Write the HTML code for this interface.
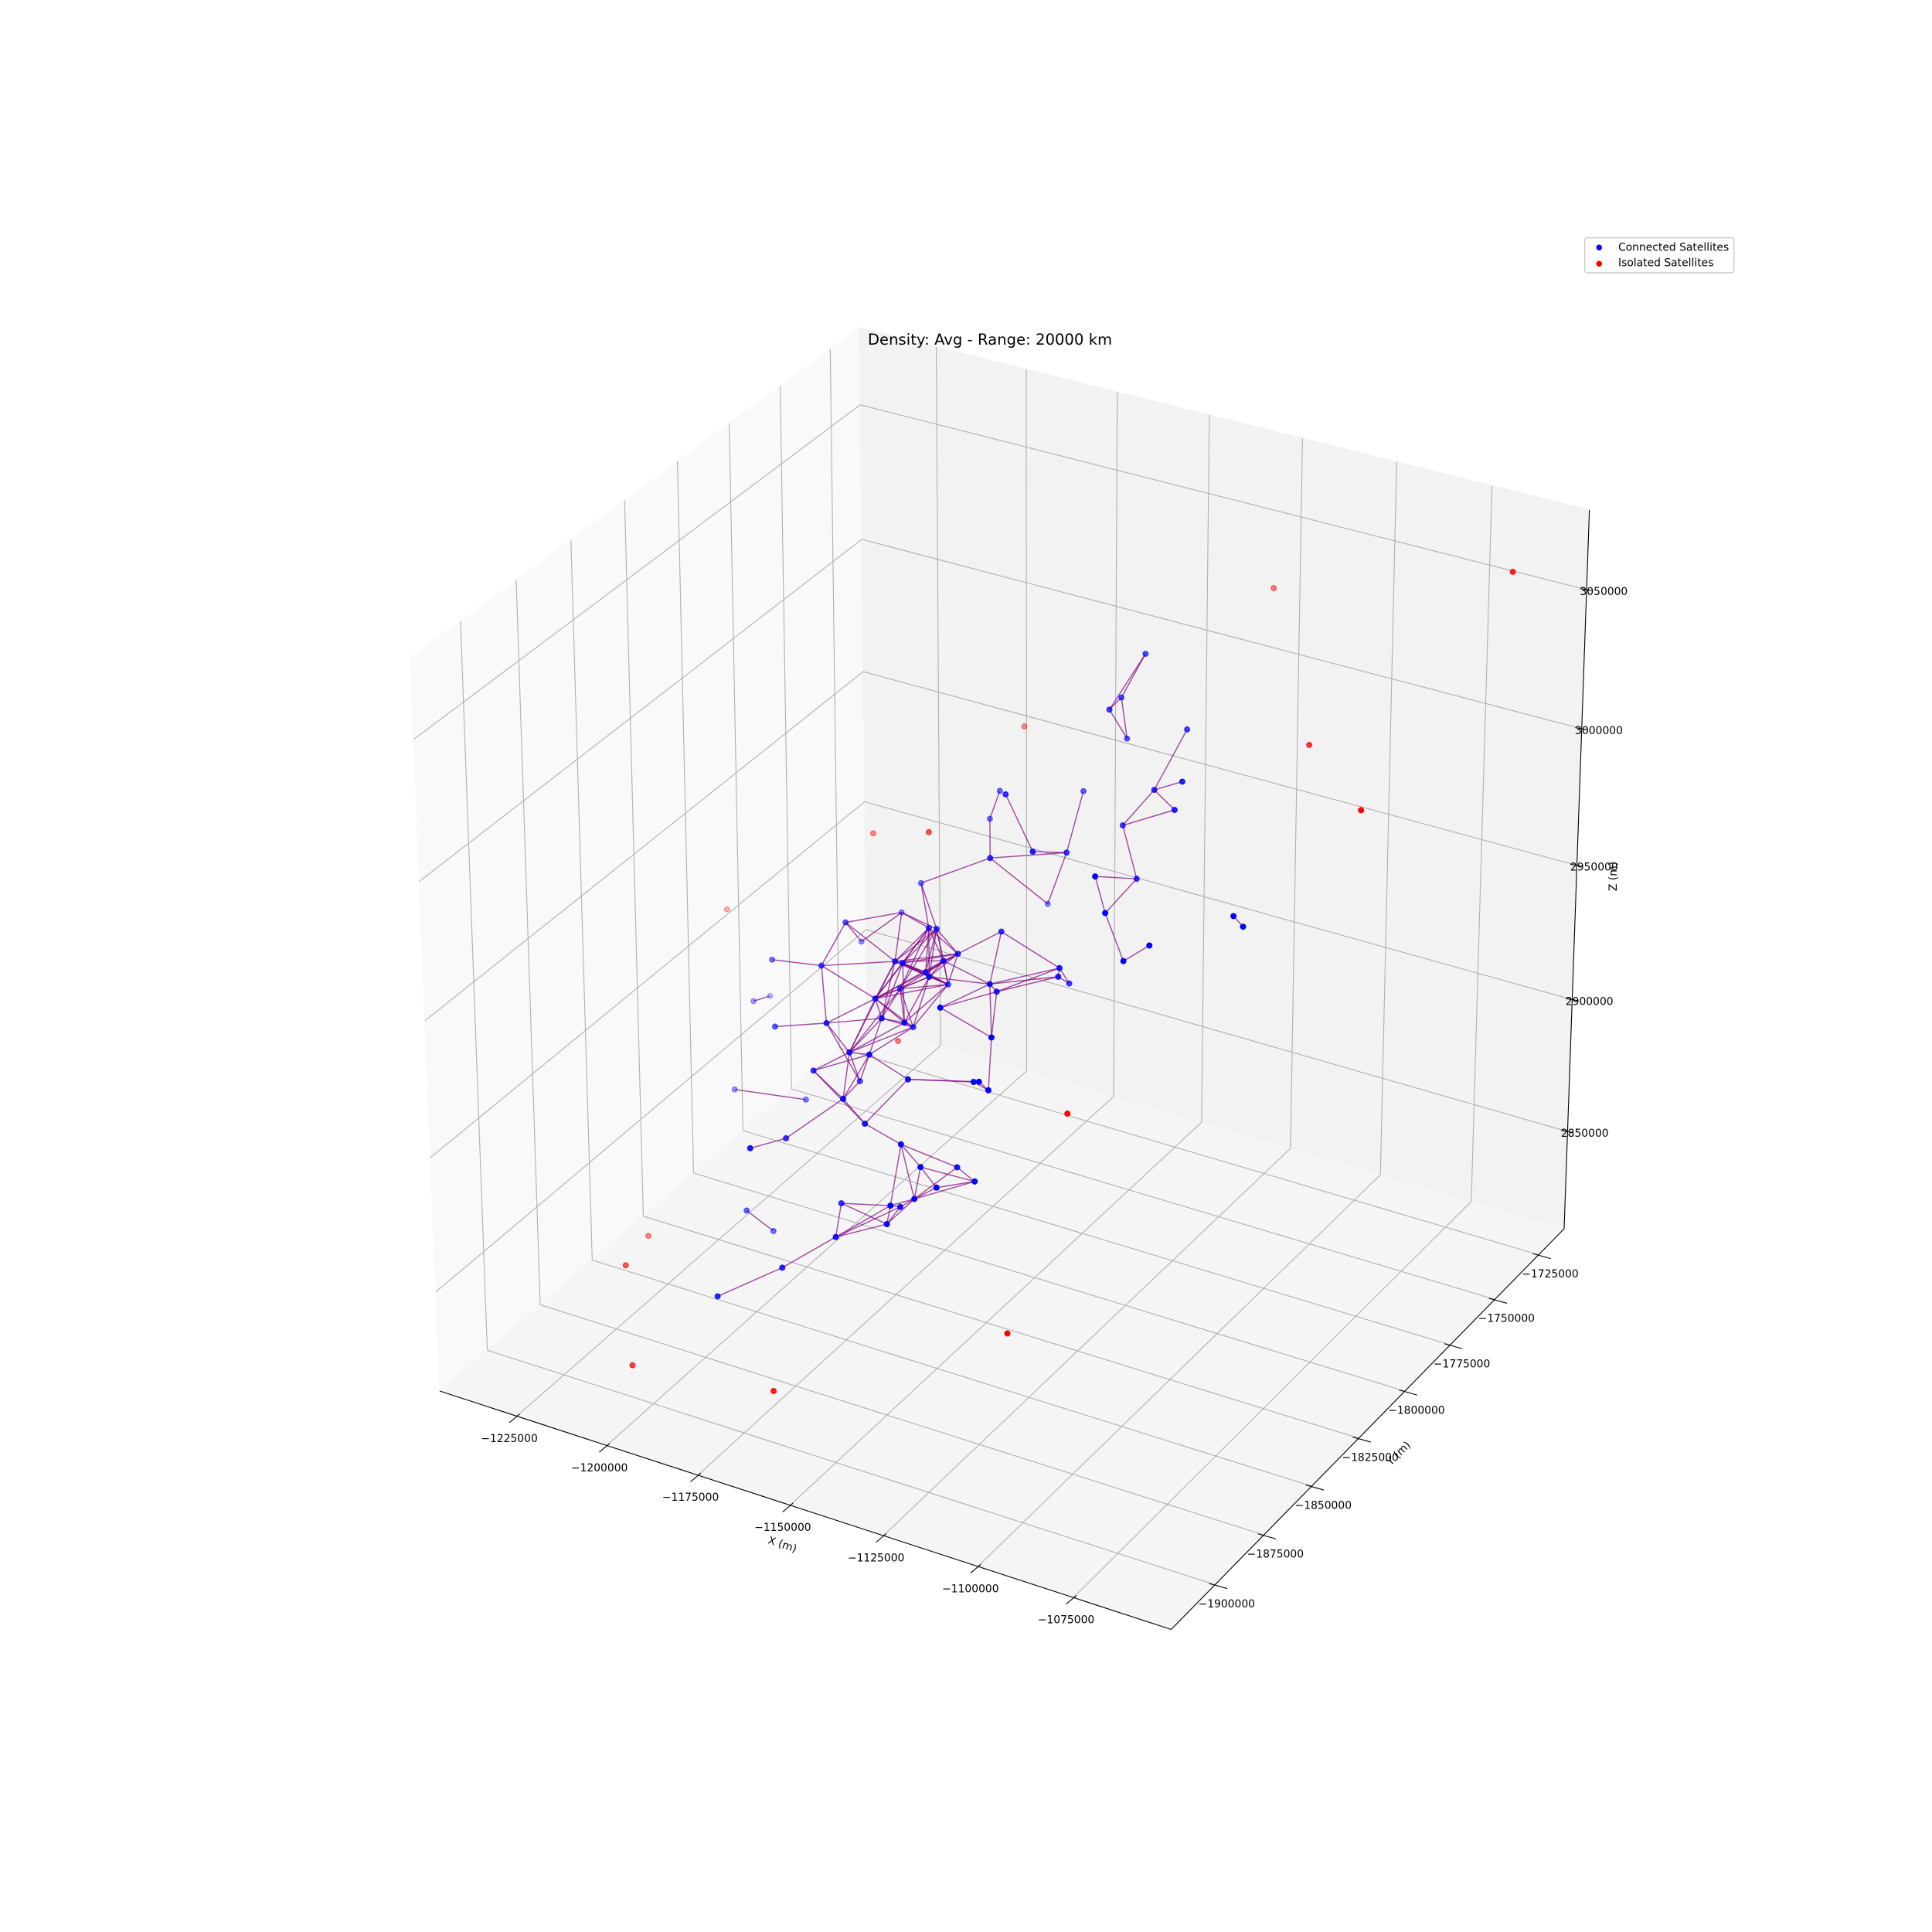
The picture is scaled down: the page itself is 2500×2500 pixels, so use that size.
<!DOCTYPE html>
<html>
<head>
<meta charset="utf-8">
<title>Density: Avg - Range: 20000 km</title>
<style>
html,body{margin:0;padding:0;background:#fff;}
svg{display:block;}
text{font-family:"DejaVu Sans","Liberation Sans",sans-serif;fill:#000;}
</style>
</head>
<body>
<svg id="chart" xmlns="http://www.w3.org/2000/svg" width="2500" height="2500" viewBox="0 0 2500 2500">
  <rect x="0" y="0" width="2500" height="2500" fill="#ffffff"/>
  <g id="panes"></g>
  <g id="grid"></g>
  <g id="axes"></g>
  <g id="tick-labels"></g>
  <g id="links"></g>
  <g id="connected"></g>
  <g id="isolated"></g>
  <text x="1123" y="446" font-size="19.44" textLength="316" lengthAdjust="spacing">Density: Avg - Range: 20000 km</text>
  <text x="1012.3" y="1999" font-size="13.89" text-anchor="middle" dominant-baseline="central" transform="rotate(18.3 1012.3 1999)">X (m)</text>
  <text x="1810" y="1881" font-size="13.89" text-anchor="middle" dominant-baseline="central" transform="rotate(-45 1810 1881)">Y (m)</text>
  <text x="2088" y="1134" font-size="13.89" text-anchor="middle" dominant-baseline="central" transform="rotate(-90 2088 1134)">Z (m)</text>
  <g>
    <rect x="2050.7" y="307.7" width="193" height="45.3" rx="3" ry="3" fill="#ffffff" fill-opacity="0.8" stroke="#cccccc" stroke-width="1.39"/>
    <circle cx="2069.3" cy="320.3" r="3.1" fill="#0000ff" stroke="#0000ff" stroke-width="1.39"/>
    <text x="2094" y="324.6" font-size="13.89">Connected Satellites</text>
    <circle cx="2069.3" cy="341.3" r="3.1" fill="#ff0000" stroke="#ff0000" stroke-width="1.39"/>
    <text x="2094" y="344.6" font-size="13.89">Isolated Satellites</text>
  </g>
</svg>
<script>
// Tick values (metres)
const xTicks = [-1225000,-1200000,-1175000,-1150000,-1125000,-1100000,-1075000];
const yTicks = [-1900000,-1875000,-1850000,-1825000,-1800000,-1775000,-1750000,-1725000];
const zTicks = [2850000,2900000,2950000,3000000,3050000];

// Connected satellites (metres)
const connectedX = [-1188200,-1149300,-1135400,-1139900,-1166800,-1195900,-1190400,-1208700,-1163000,-1161400,-1150700,-1148600,-1214100,-1187500,-1162500,-1154800,-1153100,-1156000,-1143700,-1161600,-1170800,-1158300,-1137000,-1135300,-1124400,-1124200,-1132700,-1129500,-1118400,-1233100,-1241000,-1199000,-1172700,-1156100,-1146200,-1161000,-1155200,-1151300,-1172800,-1174000,-1137400,-1119600,-1118600,-1116400,-1226700,-1205400,-1154100,-1148700,-1174700,-1169400,-1135500,-1125400,-1128900,-1114500,-1121400,-1125000,-1129200,-1137800,-1160700,-1134200,-1200600,-1199600,-1148600,-1162700,-1173700,-1139700,-1142200,-1138800,-1144100,-1122600,-1110100,-1120900,-1110200,-1130300,-1119800,-1106800,-1103100,-1097300,-1093200,-1078800,-1076500,-1155200,-1149500,-1171900,-1177700];
const connectedY = [-1786400,-1823300,-1828300,-1802900,-1761400,-1782300,-1819700,-1779700,-1828300,-1827400,-1836600,-1819100,-1814200,-1836600,-1845600,-1855700,-1839200,-1842600,-1863200,-1821500,-1828300,-1862600,-1846300,-1846100,-1835700,-1836700,-1815000,-1883800,-1880000,-1791100,-1769400,-1839200,-1860400,-1863600,-1870600,-1839800,-1880500,-1878100,-1866600,-1842500,-1884900,-1886300,-1885600,-1885200,-1811900,-1813800,-1885600,-1885100,-1876600,-1902200,-1891800,-1900900,-1877200,-1895300,-1900700,-1904600,-1908200,-1888200,-1875400,-1901000,-1851400,-1840500,-1899400,-1899900,-1911000,-1763600,-1771000,-1783700,-1764200,-1775300,-1802300,-1795300,-1805900,-1792900,-1806000,-1852000,-1854100,-1856200,-1851400,-1838000,-1837700,-1765200,-1815300,-1776500,-1770800];
const connectedZ = [2938900,2985600,2996200,2978500,2923600,2922400,2944300,2904800,2958200,2957900,2958800,2956600,2917800,2940200,2957200,2966000,2957000,2953900,2970200,2933700,2932900,2956300,2959400,2957200,2963300,2960900,2941200,2978100,2969500,2879800,2864700,2914800,2940300,2950700,2957600,2930100,2949800,2949000,2927000,2906700,2950200,2957400,2957400,2955000,2862000,2868000,2936900,2929800,2908100,2923900,2932300,2934500,2916900,2930100,2928700,2925800,2924100,2906300,2889200,2910400,2853200,2838300,2898500,2881600,2874100,3026900,3014600,3018900,2995000,3012600,3014600,3003500,3006700,2985800,2978500,3012800,3002700,2989400,2993400,3000800,2997800,2972300,3003500,2973100,2957200];

// Isolated satellites (metres)
const isolatedX = [-1054400,-1127800,-1174900,-1093100,-1060000,-1199600,-1170900,-1238600,-1179200,-1100400,-1223700,-1208200,-1193000,-1153600,-1100900];
const isolatedY = [-1745500,-1719800,-1758400,-1770700,-1812000,-1789500,-1813700,-1793800,-1814500,-1877200,-1859300,-1895300,-1918200,-1920400,-1905000];
const isolatedZ = [3074900,3029700,2985000,3014900,3028800,2955100,2981000,2914500,2901200,2947900,2839200,2859700,2845200,2854800,2888100];

// Links between connected satellites (1-based satellite numbers)
const linkPairs = [
[66,67],[66,68],[67,68],[67,69],[68,69],[70,72],[71,72],[72,73],[72,74],[73,74],[74,75],[75,76],[75,77],[76,77],[77,78],[78,79],[80,81],
[82,4],[3,4],[83,3],[84,85],[85,2],[2,4],[2,1],[2,5],[4,5],[1,9],[1,10],
[6,7],[6,8],[6,9],[6,10],[6,15],[7,8],[7,14],[7,15],[14,13],[14,15],[14,22],[14,33],[22,33],[32,33],[33,34],[33,37],[33,40],[30,31],
[11,12],[12,25],[12,23],[25,23],[25,24],[25,27],[26,23],[26,24],[26,27],[25,26],[23,24],[23,28],[24,28],[23,29],[24,29],[28,29],[29,44],
[11,9],[11,10],[11,15],[11,16],[11,17],[11,18],[11,19],[11,20],[11,21],[17,23],[19,23],
[9,15],[9,16],[9,17],[9,18],[9,19],[9,21],[9,22],[10,15],[10,16],[10,17],[10,18],[10,19],[10,20],[10,21],
[15,17],[15,18],[15,19],[15,20],[15,22],[15,34],[15,37],[16,18],[16,19],[16,20],[16,22],[16,34],[16,35],
[17,18],[17,19],[17,20],[17,22],[18,19],[18,20],[18,22],[19,20],[19,21],[19,22],[19,35],[19,36],
[20,21],[20,22],[20,35],[20,36],[21,22],[21,34],[21,35],[21,36],[21,37],[22,34],[22,35],[22,36],[22,37],[34,35],[34,36],[35,36],[34,37],[34,38],[35,37],[36,37],[36,38],
[37,38],[37,39],[38,39],[37,40],[38,40],[39,47],[39,48],[37,47],[38,47],[40,47],[38,41],[47,48],[47,49],[48,41],[48,51],[41,42],[41,43],[42,44],[43,44],[42,43],[49,50],[45,46],[61,62],
[51,52],[51,53],[51,56],[51,57],[52,54],[52,55],[52,56],[53,54],[53,56],[54,55],[54,56],[55,56],[56,57],[56,58],[56,60],[57,58],[57,60],[57,59],[59,60],[59,63],[58,60],[60,63],[57,63],[58,63],[63,64],[64,65]
];

// Frame axis limits (metres)
const xMin = -1246594, xMax = -1049744;
const yMin = -1922118, yMax = -1710254;
const zMin = 2812593, zMax = 3078268;

// Satellite scene limits (metres)
const sceneXMin = -1246600, sceneXMax = -1050500;
const sceneYMin = -1919350, sceneYMax = -1710150;
const sceneZMin = 2812430, sceneZMax = 3079120;

const NS = 'http://www.w3.org/2000/svg';
function uOf(x){ return (x - xMin) / (xMax - xMin); }
function vOf(y){ return (y - yMin) / (yMax - yMin); }
function tOf(z){ return (z - zMin) / (zMax - zMin); }
function projectNorm(u, v, t){
  const w = 1 - 0.04556*u + 0.07502*v - 0.047*t;
  return {
    px: (569 + 877.45*u + 637.17*v - 63*t) / w,
    py: (1800 + 212.44*u - 375.6*v - 988.5*t) / w,
    depth: w
  };
}
function project(x, y, z){
  const u = (x - sceneXMin) / (sceneXMax - sceneXMin);
  const v = (y - sceneYMin) / (sceneYMax - sceneYMin);
  const t = (z - sceneZMin) / (sceneZMax - sceneZMin);
  const w = 1 - 0.05613*u + 0.08568*v - 0.05*t;
  return {
    px: (569 + 865.7*u + 649.1*v - 65*t) / w,
    py: (1800 + 196.3*u - 359.3*v - 994*t) / w,
    depth: w
  };
}
function fmt(v){ return String(v).replace('-', '\u2212'); }
function line(parent, a, b, stroke, width){
  const el = document.createElementNS(NS, 'line');
  el.setAttribute('x1', a.px.toFixed(2));
  el.setAttribute('y1', a.py.toFixed(2));
  el.setAttribute('x2', b.px.toFixed(2));
  el.setAttribute('y2', b.py.toFixed(2));
  el.setAttribute('stroke', stroke);
  el.setAttribute('stroke-width', width);
  parent.appendChild(el);
  return el;
}
function poly(parent, pts, fill){
  const el = document.createElementNS(NS, 'polygon');
  el.setAttribute('points', pts.map(p => p.px.toFixed(2) + ',' + p.py.toFixed(2)).join(' '));
  el.setAttribute('fill', fill);
  el.setAttribute('stroke', fill);
  el.setAttribute('stroke-width', '1.1');
  parent.appendChild(el);
  return el;
}
function label(parent, x, y, s){
  const el = document.createElementNS(NS, 'text');
  el.setAttribute('x', x.toFixed(2));
  el.setAttribute('y', y.toFixed(2));
  el.setAttribute('font-size', '13.89');
  el.setAttribute('text-anchor', 'middle');
  el.setAttribute('dominant-baseline', 'central');
  el.textContent = s;
  parent.appendChild(el);
  return el;
}
function offset(p, dx, dy){ return {px: p.px + dx, py: p.py + dy}; }

const panes = document.getElementById('panes');
const grid = document.getElementById('grid');
const axes = document.getElementById('axes');
const tickLabels = document.getElementById('tick-labels');
const linksG = document.getElementById('links');
const connectedG = document.getElementById('connected');
const isolatedG = document.getElementById('isolated');

// Panes
const wallLeft = poly(panes, [projectNorm(0,0,0),projectNorm(0,1,0),projectNorm(0,1,1),projectNorm(0,0,1)], '#f9f9f9');


const wallBack = poly(panes, [projectNorm(0,1,0),projectNorm(1,1,0),projectNorm(1,1,1),projectNorm(0,1,1)], '#f2f2f2');


const wallFloor = poly(panes, [projectNorm(0,0,0),projectNorm(1,0,0),projectNorm(1,1,0),projectNorm(0,1,0)], '#f5f5f5');



const GRID = '#b0b0b0', GW = '1.11';

// X grid, ticks and labels
xTicks.forEach(function(tv){
  const u = uOf(tv);
  const g1 = line(grid, projectNorm(u,0,0), projectNorm(u,1,0), GRID, GW);
  
  
  const g2 = line(grid, projectNorm(u,1,0), projectNorm(u,1,1), GRID, GW);
  
  
  const a = projectNorm(u,0,0);
  const tk = line(axes, offset(a, 3.8, -2.7), offset(a, -9.6, 8.6), '#000', '1.11');
  
  
  const lb = label(tickLabels, a.px - 9.5, a.py + 29.3, fmt(tv));
  
  
});

// Y grid, ticks and labels
yTicks.forEach(function(tv){
  const v = vOf(tv);
  const g1 = line(grid, projectNorm(1,v,0), projectNorm(0,v,0), GRID, GW);
  
  
  const g2 = line(grid, projectNorm(0,v,0), projectNorm(0,v,1), GRID, GW);
  
  
  const a = projectNorm(1,v,0);
  const tk = line(axes, offset(a, -7.7, -1.5), offset(a, 15.7, 5), '#000', '1.11');
  
  
  const lb = label(tickLabels, a.px + 15, a.py + 25.2, fmt(tv));
  
  
});

// Z grid, ticks and labels
zTicks.forEach(function(tv){
  const t = tOf(tv);
  const g1 = line(grid, projectNorm(0,0,t), projectNorm(0,1,t), GRID, GW);
  
  
  const g2 = line(grid, projectNorm(0,1,t), projectNorm(1,1,t), GRID, GW);
  
  
  const a = projectNorm(1,1,t);
  const tk = line(axes, offset(a, -8.4, -1.4), offset(a, 7.6, 1.3), '#000', '1.11');
  
  
  const lb = label(tickLabels, a.px + 22.3, a.py + 2.8, fmt(tv));
  
  
});

// Axis lines
const axisX = line(axes, projectNorm(0,0,0), projectNorm(1,0,0), '#000', '1.11');


const axisY = line(axes, projectNorm(1,0,0), projectNorm(1,1,0), '#000', '1.11');


const axisZ = line(axes, projectNorm(1,1,0), projectNorm(1,1,1), '#000', '1.11');



// Depth-shaded alpha
function depthAlpha(d, dMin, dMax){
  if (dMax === dMin) return 1;
  return 1 - 0.7 * (d - dMin) / (dMax - dMin);
}

const connectedPts = connectedX.map(function(x, i){ return project(x, connectedY[i], connectedZ[i]); });
const isolatedPts = isolatedX.map(function(x, i){ return project(x, isolatedY[i], isolatedZ[i]); });

// Links
linkPairs.forEach(function(pair){
  const a = connectedPts[pair[0] - 1];
  const b = connectedPts[pair[1] - 1];
  if (!a || !b) return;
  const el = line(linksG, a, b, '#800080', '1.45');
  el.setAttribute('stroke-opacity', '0.7');
  
  
});

function drawScatter(parent, pts, color, gamma){
  const ds = pts.map(function(p){ return p.depth; });
  const dMin = Math.min.apply(null, ds);
  const dMax = Math.max.apply(null, ds);
  pts.slice().sort(function(a, b){ return b.depth - a.depth; }).forEach(function(p){
    const al = Math.pow(depthAlpha(p.depth, dMin, dMax), gamma);
    const c = document.createElementNS(NS, 'circle');
    c.setAttribute('cx', p.px.toFixed(2));
    c.setAttribute('cy', p.py.toFixed(2));
    c.setAttribute('r', '3.3');
    c.setAttribute('fill', color);
    c.setAttribute('fill-opacity', al.toFixed(3));
    c.setAttribute('stroke', color);
    c.setAttribute('stroke-opacity', al.toFixed(3));
    c.setAttribute('stroke-width', '1.39');
    
    
    parent.appendChild(c);
  });
}
drawScatter(connectedG, connectedPts, '#0000ff', 1.15);
drawScatter(isolatedG, isolatedPts, '#ff0000', 1);
</script>
</body>
</html>
